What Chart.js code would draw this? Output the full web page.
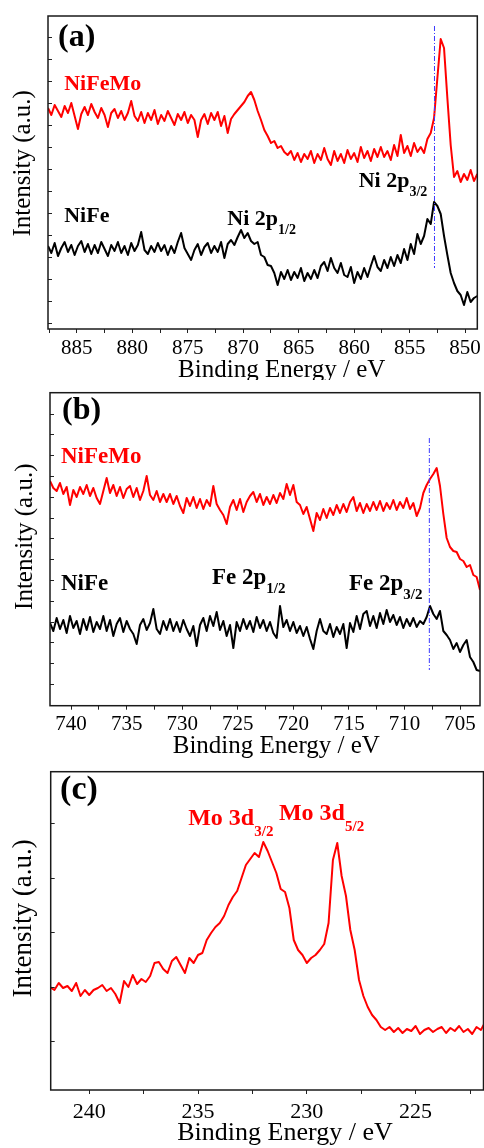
<!DOCTYPE html>
<html><head><meta charset="utf-8">
<script src="https://cdn.jsdelivr.net/npm/chart.js@4/dist/chart.umd.min.js"></script>
<style>
html,body{margin:0;padding:0;background:#fff;}
body{width:484px;height:1148px;position:relative;overflow:hidden;}
canvas{position:absolute;left:0;}
</style></head><body>
<canvas id="ca" width="484" height="380" style="top:0px;width:484px;height:380px"></canvas>
<canvas id="cb" width="484" height="380" style="top:380px;width:484px;height:380px"></canvas>
<canvas id="cc" width="484" height="388" style="top:760px;width:484px;height:388px"></canvas>
<script>
// ---------- Panel (a): Ni 2p ----------
const energyA = [
887.6,887.3,887.0,886.7,886.4,886.1,885.8,885.5,885.2,884.9,
884.6,884.3,884.0,883.7,883.4,883.1,882.8,882.5,882.2,881.9,
881.6,881.3,881.0,880.7,880.4,880.1,879.8,879.5,879.2,878.9,
878.6,878.3,878.0,877.7,877.4,877.1,876.8,876.5,876.2,875.9,
875.6,875.3,875.0,874.7,874.4,874.1,873.8,873.5,873.2,872.9,
872.6,872.3,872.0,871.7,871.4,871.1,870.8,870.5,870.2,869.9,
869.6,869.3,869.0,868.7,868.4,868.1,867.8,867.5,867.2,866.9,
866.6,866.3,866.0,865.7,865.4,865.1,864.8,864.5,864.2,863.9,
863.6,863.3,863.0,862.7,862.4,862.1,861.8,861.5,861.2,860.9,
860.6,860.3,860.0,859.7,859.4,859.1,858.8,858.5,858.2,857.9,
857.6,857.3,857.0,856.7,856.4,856.1,855.8,855.5,855.2,854.9,
854.6,854.3,854.0,853.7,853.4,853.1,852.8,852.5,852.2,851.9,
851.6,851.3,851.0,850.7,850.4,850.1,849.8,849.5,849.2,848.9];
const niFeMoA = [
215,208,218,212,206,217,210,220,207,194,
209,216,208,219,211,205,215,208,196,210,
214,205,212,203,210,222,207,202,211,200,
210,203,213,199,208,202,212,205,198,209,
203,211,200,208,203,186,203,209,199,210,
203,211,197,207,190,204,209,213,217,221,
227,231,223,212,203,193,187,180,182,175,
177,171,168,172,163,170,161,169,164,172,
160,169,163,175,164,158,172,162,169,160,
173,164,170,161,176,165,172,162,174,166,
176,166,172,163,178,167,188,170,177,167,
180,171,176,170,184,190,205,245,284,275,
225,178,146,152,141,149,143,153,142,149];
const niFeA = [
77,70,80,67,75,81,71,78,68,77,
82,71,79,69,78,70,81,74,67,78,
72,81,70,77,68,80,72,78,91,73,
69,77,71,80,72,78,68,77,70,81,
90,75,69,63,73,79,68,76,80,70,
77,71,81,65,79,83,78,86,93,85,
90,82,79,81,68,66,58,57,50,38,
51,44,53,43,51,45,55,42,50,44,
53,45,57,61,52,65,55,50,60,48,
46,56,40,51,44,55,46,57,67,56,
52,63,55,66,57,68,60,74,63,79,
69,89,79,87,104,99,121,117,109,87,
68,50,40,32,28,18,31,21,25,27];
const xLabelsA = [885,880,875,870,865,860,855,850];
const markerA = [852.76, 297, 55];   // energy, top, bottom

// ---------- Panel (b): Fe 2p ----------
const energyB = [
741.9,741.6,741.3,741.0,740.7,740.4,740.1,739.8,739.5,739.2,
738.9,738.6,738.3,738.0,737.7,737.4,737.1,736.8,736.5,736.2,
735.9,735.6,735.3,735.0,734.7,734.4,734.1,733.8,733.5,733.2,
732.9,732.6,732.3,732.0,731.7,731.4,731.1,730.8,730.5,730.2,
729.9,729.6,729.3,729.0,728.7,728.4,728.1,727.8,727.5,727.2,
726.9,726.6,726.3,726.0,725.7,725.4,725.1,724.8,724.5,724.2,
723.9,723.6,723.3,723.0,722.7,722.4,722.1,721.8,721.5,721.2,
720.9,720.6,720.3,720.0,719.7,719.4,719.1,718.8,718.5,718.2,
717.9,717.6,717.3,717.0,716.7,716.4,716.1,715.8,715.5,715.2,
714.9,714.6,714.3,714.0,713.7,713.4,713.1,712.8,712.5,712.2,
711.9,711.6,711.3,711.0,710.7,710.4,710.1,709.8,709.5,709.2,
708.9,708.6,708.3,708.0,707.7,707.4,707.1,706.8,706.5,706.2,
705.9,705.6,705.3,705.0,704.7,704.4,704.1,703.8,703.5,703.2];
const niFeMoB = [
203,196,193,201,190,197,179,194,187,197,
190,199,188,196,186,180,193,206,191,199,
188,197,186,195,198,187,196,184,193,208,
189,184,193,182,190,182,190,180,188,178,
171,186,178,187,176,185,175,184,178,198,
180,174,169,160,177,184,174,185,172,182,
188,192,182,190,179,187,180,189,181,191,
185,200,189,199,182,179,170,177,165,153,
171,164,175,166,176,169,179,171,180,172,
182,187,173,181,171,180,173,182,174,183,
173,181,175,184,174,182,176,186,175,181,
168,176,191,199,205,210,216,198,170,146,
137,133,132,125,123,117,119,109,107,94];
const niFeB = [
61,53,66,55,64,51,68,56,63,50,
65,54,67,52,62,55,68,53,64,48,
60,66,52,63,55,50,40,59,65,54,
61,75,55,50,63,54,65,53,62,52,
64,55,48,58,38,59,66,53,68,58,
72,54,63,48,59,36,62,53,65,55,
63,52,67,56,64,53,62,51,46,78,
57,64,53,62,51,58,48,57,45,35,
53,65,53,50,60,47,57,50,60,36,
61,52,68,55,70,73,58,68,56,71,
60,74,62,69,59,67,56,65,58,66,
57,63,60,67,78,70,65,73,53,49,
44,35,41,32,39,44,27,22,14,13];
const xLabelsB = [740,735,730,725,720,715,710,705];
const markerB = [707.76, 246, 14];

// ---------- Panel (c): Mo 3d ----------
const energyC = [
241.8,241.6,241.4,241.2,241.0,240.8,240.6,240.4,240.2,240.0,
239.8,239.6,239.4,239.2,239.0,238.8,238.6,238.4,238.2,238.0,
237.8,237.6,237.4,237.2,237.0,236.8,236.6,236.4,236.2,236.0,
235.8,235.6,235.4,235.2,235.0,234.8,234.6,234.4,234.2,234.0,
233.8,233.6,233.4,233.2,233.0,232.8,232.6,232.4,232.2,232.0,
231.8,231.6,231.4,231.2,231.0,230.8,230.6,230.4,230.2,230.0,
229.8,229.6,229.4,229.2,229.0,228.8,228.6,228.4,228.2,228.0,
227.8,227.6,227.4,227.2,227.0,226.8,226.6,226.4,226.2,226.0,
225.8,225.6,225.4,225.2,225.0,224.8,224.6,224.4,224.2,224.0,
223.8,223.6,223.4,223.2,223.0,222.8,222.6,222.4,222.2,222.0,
221.8];
const niFeMoC = [
54,51,58,53,55,50,58,45,51,46,
51,53,56,50,53,47,38,60,54,66,
57,62,59,65,78,79,72,68,80,84,
76,68,83,78,86,88,101,108,114,118,
125,136,144,150,163,176,182,188,184,199,
190,179,168,152,149,133,101,91,86,78,
83,86,91,97,118,181,198,165,145,111,
91,61,45,34,26,21,14,11,14,9,
13,8,12,10,15,7,11,13,9,12,
14,8,13,10,15,9,12,7,14,11,
19];
const xLabelsC = [240,235,230,225];

const FONT = '"Liberation Serif", "Times New Roman", Times, serif';
const X_TITLE = 'Binding Energy / eV';
const Y_TITLE = 'Intensity (a.u.)';

function pts(xs, ys) { return xs.map((x, i) => ({x: x, y: ys[i]})); }

function panelPlugin(o) {
  return {
    id: 'panelDeco',
    afterDraw(chart) {
      const ctx = chart.ctx, a = chart.chartArea, xs = chart.scales.x, ys = chart.scales.y;
      ctx.save();
      // inward y ticks
      ctx.strokeStyle = '#222'; ctx.lineWidth = 1;
      ys.ticks.forEach(t => {
        const py = Math.round(ys.getPixelForValue(t.value)) + 0.5;
        if (py < a.top + 2 || py > a.bottom - 2) return;
        ctx.beginPath(); ctx.moveTo(a.left, py); ctx.lineTo(a.left + 4, py); ctx.stroke();
      });
      // frame
      ctx.lineWidth = 1.5; ctx.strokeStyle = '#1a1a1a';
      ctx.strokeRect(a.left, a.top, a.right - a.left, a.bottom - a.top);
      // axis titles
      ctx.fillStyle = '#000';
      ctx.textAlign = 'center'; ctx.textBaseline = 'alphabetic';
      ctx.font = o.xTitleSize + 'px ' + FONT;
      ctx.fillText(X_TITLE, o.xTitleX, o.xTitleY);
      ctx.save();
      ctx.translate(o.yTitleX, o.yTitleY);
      ctx.rotate(-Math.PI / 2);
      ctx.font = o.yTitleSize + 'px ' + FONT;
      ctx.fillText(Y_TITLE, 0, 0);
      ctx.restore();
      // annotations
      ctx.textAlign = 'left'; ctx.textBaseline = 'middle';
      o.labels.forEach(l => {
        const px = xs.getPixelForValue(l.e), py = ys.getPixelForValue(l.v);
        ctx.fillStyle = l.color;
        ctx.font = 'bold ' + l.size + 'px ' + FONT;
        ctx.fillText(l.text, px, py);
        if (l.sub) {
          const w = ctx.measureText(l.text).width;
          ctx.font = 'bold ' + l.subSize + 'px ' + FONT;
          ctx.fillText(l.sub, px + w, py + l.subDy);
        }
      });
      ctx.restore();
    }
  };
}

function makeChart(id, o) {
  const datasets = [];
  if (o.marker) {
    datasets.push({
      data: [{x: o.marker[0], y: o.marker[1]}, {x: o.marker[0], y: o.marker[2]}],
      borderColor: '#3a3aff', borderWidth: 1, borderDash: [5, 2, 1, 2]
    });
  }
  o.series.forEach(s => datasets.push({data: pts(s.x, s.y), borderColor: s.color, borderWidth: 2}));
  return new Chart(document.getElementById(id), {
    type: 'line',
    data: {datasets: datasets},
    options: {
      responsive: false, animation: false, devicePixelRatio: 1,
      layout: {padding: {top: o.padTop, right: o.padRight, left: 0, bottom: 0}},
      plugins: {legend: {display: false}, tooltip: {enabled: false}, title: {display: false}},
      elements: {point: {radius: 0}, line: {tension: 0, borderJoinStyle: 'round'}},
      scales: {
        x: {
          type: 'linear', reverse: true, min: o.xMin, max: o.xMax,
          ticks: {
            stepSize: 2.5, includeBounds: false, autoSkip: false, maxRotation: 0, minRotation: 0,
            padding: o.tickPad, color: '#000', font: {family: FONT, size: o.tickSize},
            callback: v => o.xLabels.some(l => Math.abs(l - v) < 0.01) ? String(Math.round(v)) : ''
          },
          grid: {drawOnChartArea: false, drawTicks: true, tickLength: 4, tickColor: '#222', tickWidth: 1},
          border: {display: false},
          afterFit: s => { s.height = o.xAxisH; }
        },
        y: {
          type: 'linear', min: o.yMin, max: o.yMax,
          ticks: {display: false, stepSize: o.yStep, includeBounds: false},
          grid: {display: false}, border: {display: false},
          afterFit: s => { s.width = o.yAxisW; }
        }
      }
    },
    plugins: [panelPlugin(o)]
  });
}

makeChart('ca', {
  xMin: 848.9, xMax: 887.6, xLabels: xLabelsA, yMin: -6, yMax: 307, yStep: 22,
  padTop: 16, padRight: 5, yAxisW: 48, xAxisH: 51, tickPad: 3, tickSize: 21,
  xTitleSize: 25, xTitleX: 281.7, xTitleY: 376.7,
  yTitleSize: 25, yTitleX: 30, yTitleY: 163.3,
  marker: markerA,
  series: [{x: energyA, y: niFeMoA, color: '#ff0000'}, {x: energyA, y: niFeA, color: '#000000'}],
  labels: [
    {text: '(a)', e: 886.70, v: 285.6, size: 32, color: '#000'},
    {text: 'NiFeMo', e: 886.14, v: 239, size: 22, color: '#ff0000'},
    {text: 'NiFe', e: 886.14, v: 107, size: 22, color: '#000'},
    {text: 'Ni 2p', sub: '1/2', e: 871.44, v: 104, size: 22, subSize: 14, subDy: 11, color: '#000'},
    {text: 'Ni 2p', sub: '3/2', e: 859.59, v: 142, size: 22, subSize: 14, subDy: 11, color: '#000'}
  ]
});

makeChart('cb', {
  xMin: 703.2, xMax: 741.9, xLabels: xLabelsB, yMin: -21.7, yMax: 291.3, yStep: 20.8,
  padTop: 12.7, padRight: 4, yAxisW: 50, xAxisH: 54.3, tickPad: 2, tickSize: 21,
  xTitleSize: 25, xTitleX: 276.3, xTitleY: 373.3,
  yTitleSize: 25, yTitleX: 31.8, yTitleY: 156.7,
  marker: markerB,
  series: [{x: energyB, y: niFeMoB, color: '#ff0000'}, {x: energyB, y: niFeB, color: '#000000'}],
  labels: [
    {text: '(b)', e: 740.82, v: 273.6, size: 32, color: '#000'},
    {text: 'NiFeMo', e: 740.91, v: 227, size: 23, color: '#ff0000'},
    {text: 'NiFe', e: 740.91, v: 100, size: 23, color: '#000'},
    {text: 'Fe 2p', sub: '1/2', e: 727.32, v: 106, size: 23, subSize: 15, subDy: 11, color: '#000'},
    {text: 'Fe 2p', sub: '3/2', e: 714.99, v: 100, size: 23, subSize: 15, subDy: 11, color: '#000'}
  ]
});

makeChart('cc', {
  xMin: 221.88, xMax: 241.77, xLabels: xLabelsC, yMin: -49, yMax: 269.3, yStep: 54.4,
  padTop: 11.7, padRight: 0.5, yAxisW: 50.7, xAxisH: 58, tickPad: 5, tickSize: 22,
  xTitleSize: 26, xTitleX: 285, xTitleY: 380,
  yTitleSize: 27, yTitleX: 30.5, yTitleY: 158.3,
  series: [{x: energyC, y: niFeMoC, color: '#ff0000'}],
  labels: [
    {text: '(c)', e: 241.34, v: 250.8, size: 34, color: '#000'},
    {text: 'Mo 3d', sub: '3/2', e: 235.45, v: 222, size: 24, subSize: 15, subDy: 13, color: '#ff0000'},
    {text: 'Mo 3d', sub: '5/2', e: 231.28, v: 227, size: 24, subSize: 15, subDy: 13, color: '#ff0000'}
  ]
});
</script>
</body></html>
